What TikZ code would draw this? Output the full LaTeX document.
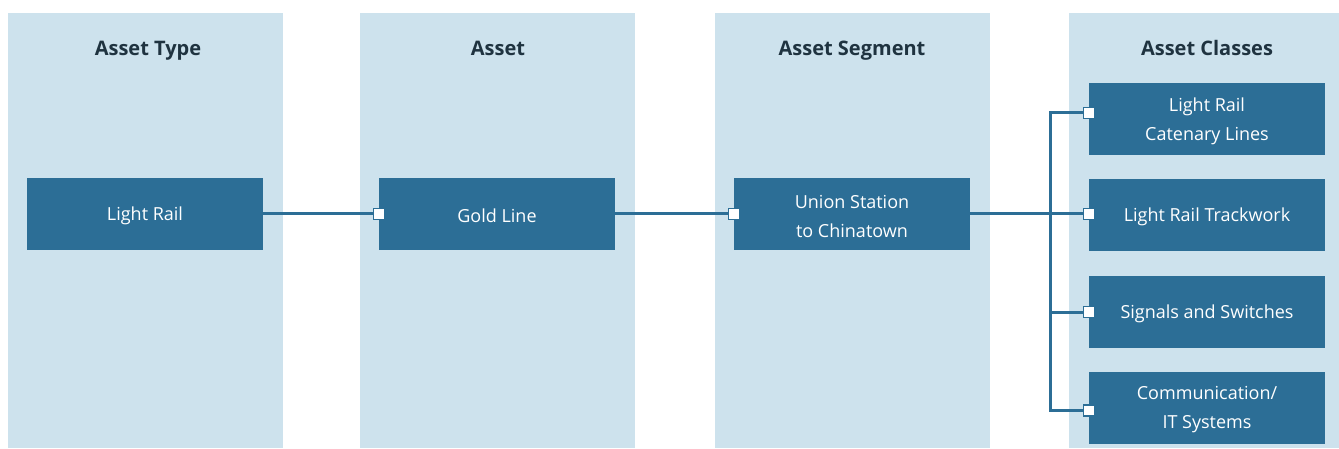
\documentclass[tikz,border=0pt]{standalone}
\usepackage{fontspec}
\setmainfont{Open Sans}
\definecolor{panelblue}{HTML}{CDE2ED}
\definecolor{boxblue}{HTML}{2C6E96}
\definecolor{headtext}{HTML}{1F3340}
\begin{document}
\begin{tikzpicture}[x=1pt,y=-1pt,
  panel/.style={fill=panelblue,draw=none},
  head/.style={font=\fontsize{20}{23}\selectfont\bfseries,text=headtext,anchor=base},
  dbox/.style={fill=boxblue,draw=none,minimum width=236pt,minimum height=72pt,inner sep=0pt},
  btext/.style={text=white,align=center,font=\fontsize{18}{29}\selectfont,yshift=-2pt,inner sep=0pt},
  link/.style={draw=boxblue,line width=3pt},
  port/.style={fill=white,draw=boxblue,line width=1.5pt,minimum size=11pt,inner sep=0pt}]
\useasboundingbox (0,0) rectangle (1339,449);
\fill[white] (0,0) rectangle (1339,449);
% panels
\fill[panel] (8,13) rectangle (283,448);
\fill[panel] (360,13) rectangle (635,448);
\fill[panel] (715,13) rectangle (990,448);
\fill[panel] (1069,13) rectangle (1339,448);
% headers
\node[head] (h1) at (148,56) {Asset Type};
\node[head] (h2) at (498,56) {Asset};
\node[head] (h3) at (852,56) {Asset Segment};
\node[head] (h4) at (1207,56) {Asset Classes};
% boxes
\node[dbox,label={[btext]center:Light Rail}] (lr) at (145,214) {};
\node[dbox,label={[btext]center:Gold Line}] (gl) at (497,214) {};
\node[dbox,label={[btext]center:Union Station\\to Chinatown}] (us) at (852,214) {};
\node[dbox,label={[btext]center:Light Rail\\Catenary Lines}] (c1) at (1207,119) {};
\node[dbox,label={[btext]center:Light Rail Trackwork}] (c2) at (1207,215) {};
\node[dbox,label={[btext]center:Signals and Switches}] (c3) at (1207,312) {};
\node[dbox,label={[btext]center:Communication/\\IT Systems}] (c4) at (1207,407.5) {};
% connectors
\draw[link] (lr.east) -- (gl.west);
\draw[link] (gl.east) -- (us.west);
\draw[link] (us.east) -- (c2.west |- us.east);
\draw[link] ([yshift=6pt]c1.west) -- ++(-38,0) |- ([yshift=-3pt]c4.west);
\draw[link] (c3.west) -- ++(-38,0);
% ports
\node[port] (pg) at (gl.west) {};
\node[port] (pu) at (us.west) {};
\node[port] (p1) at ([yshift=6pt]c1.west) {};
\node[port] (p2) at (c2.west |- us.east) {};
\node[port] (p3) at (c3.west) {};
\node[port] (p4) at ([yshift=-3pt]c4.west) {};
\end{tikzpicture}
\end{document}
